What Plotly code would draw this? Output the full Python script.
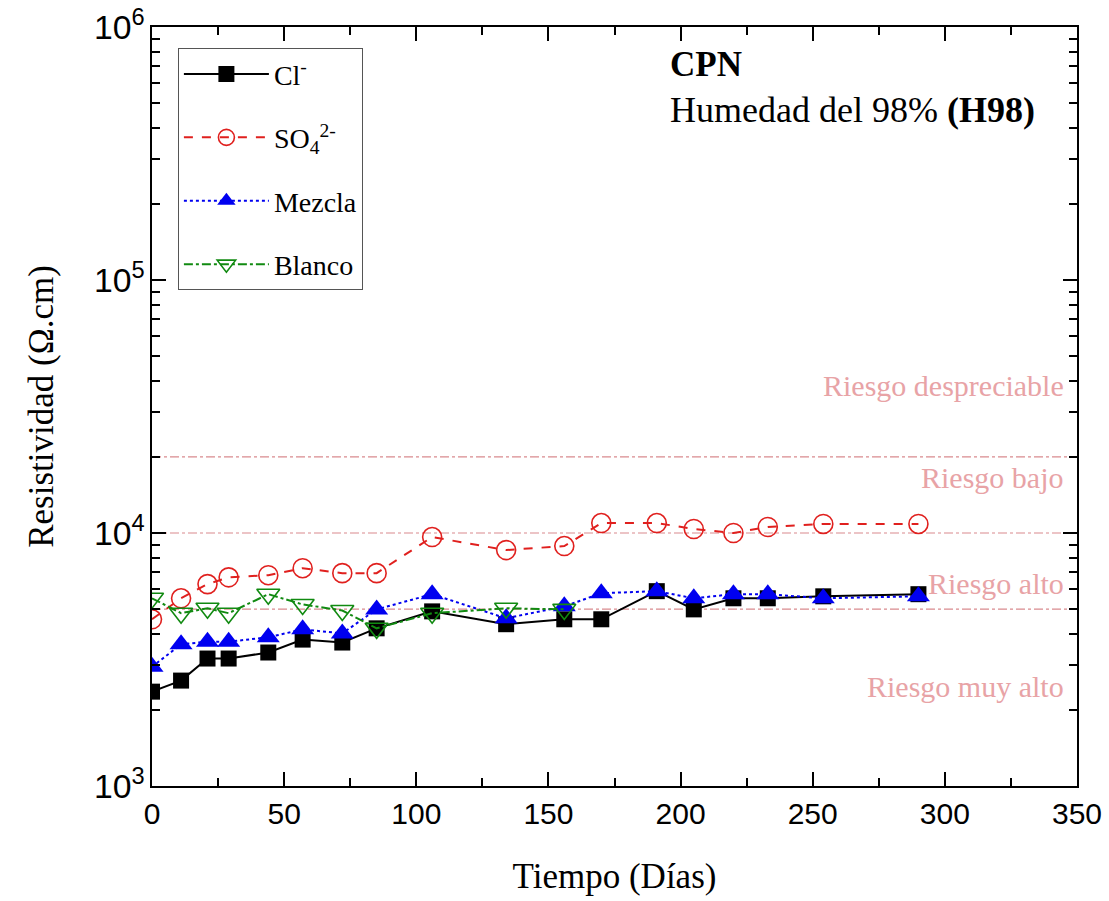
import math
import plotly.graph_objects as go

# Exposure time (days) and resistivity (ohm·cm)
dias = [0, 11, 21, 29, 44, 57, 72, 85, 106, 134, 156, 170, 191, 205, 220, 233, 254, 290]
cloruro = [2360, 2610, 3190, 3190, 3370, 3790, 3690, 4200, 4900, 4360, 4560, 4560,
           5890, 4990, 5520, 5520, 5620, 5730]
sulfato = [4560, 5520, 6280, 6680, 6810, 7260, 6940, 6940, 9640, 8560, 8880, 10950,
           10950, 10370, 10000, 10560, 10860, 10860]
mezcla = [2960, 3630, 3720, 3720, 3870, 4160, 4010, 4990, 5730, 4600, 5130, 5780,
          5890, 5520, 5730, 5730, 5520, 5620]
dias_blanco = [0, 11, 21, 29, 44, 57, 72, 85, 106, 134, 156]
blanco = [5520, 4820, 5040, 4820, 5730, 5220, 4940, 4200, 4820, 5040, 4990]

# Corrosion-risk thresholds and the labels of each band
umbrales = [20000, 10000, 5000]
riesgos = ["Riesgo despreciable", "Riesgo bajo", "Riesgo alto", "Riesgo muy alto"]
riesgos_y = [38300, 16500, 6300, 2470]

SERIF = "Liberation Serif"
SANS = "Liberation Sans"
RISK_COLOR = "#E8A3A6"

fig = go.Figure()

# threshold lines
for u in umbrales:
    fig.add_trace(go.Scatter(
        x=[0, 350], y=[u, u], mode="lines", showlegend=False, hoverinfo="skip",
        line=dict(color="#D98A8E", width=1.2, dash="dashdot")))

series = [
    ("Cl<sup>-</sup>", dias, cloruro, "black", "solid",
     dict(symbol="square", size=16, color="black")),
    ("SO<sub>4</sub><sup>2-</sup>", dias, sulfato, "#E0201E", "dash",
     dict(symbol="circle-open", size=19, color="#E0201E", line=dict(width=1.6, color="#E0201E"))),
    ("Mezcla", dias, mezcla, "#0000F0", "dot",
     dict(symbol="triangle-up", size=20, color="#0000F0")),
    ("Blanco", dias_blanco, blanco, "#118A11", "dashdot",
     dict(symbol="triangle-down-open", size=20, color="#118A11", line=dict(width=1.6, color="#118A11"))),
]
for i, (name, xs, ys, col, dash, mk) in enumerate(series):
    fig.add_trace(go.Scatter(
        x=xs, y=ys, name=name, mode="lines+markers", legendgroup=str(i),
        line=dict(color=col, width=2, dash=dash), marker=mk))

for txt, yv in zip(riesgos, riesgos_y):
    fig.add_annotation(x=346, y=math.log10(yv), xref="x", yref="y", text=txt,
                       showarrow=False, xanchor="right", yanchor="middle",
                       font=dict(family=SERIF, size=30, color=RISK_COLOR))

fig.add_annotation(x=0.558, y=0.951, xref="paper", yref="paper", text="<b>CPN</b>",
                   showarrow=False, xanchor="left", yanchor="middle",
                   font=dict(family=SERIF, size=35, color="black"))
fig.add_annotation(x=0.558, y=0.891, xref="paper", yref="paper",
                   text="Humedad del 98% <b>(H98)</b>",
                   showarrow=False, xanchor="left", yanchor="middle",
                   font=dict(family=SERIF, size=36, color="black"))

fig.update_layout(
    width=1109, height=901,
    margin=dict(l=152, r=32, t=27, b=115),
    paper_bgcolor="white", plot_bgcolor="white",
    showlegend=True,
    legend=dict(x=0.028, y=0.972, xanchor="left", yanchor="top",
                bordercolor="#555555", borderwidth=1, bgcolor="white",
                font=dict(family=SERIF, size=28, color="black"),
                itemwidth=85, tracegroupgap=24, traceorder="grouped"),
    xaxis=dict(range=[0, 350], tickvals=[0, 50, 100, 150, 200, 250, 300, 350],
               automargin=False,
               ticks="inside", ticklen=14, tickwidth=2, tickcolor="black",
               minor=dict(tick0=25, dtick=50, ticks="inside", ticklen=8, tickwidth=2, tickcolor="black"),
               showline=True, linecolor="black", linewidth=2, mirror="ticks",
               showgrid=False, zeroline=False,
               tickfont=dict(family=SANS, size=30, color="black"),
               title=dict(text="Tiempo (Días)", standoff=34,
                          font=dict(family=SERIF, size=35, color="black"))),
    yaxis=dict(type="log", range=[3, 6], dtick=1, exponentformat="power",
               automargin=False,
               ticks="inside", ticklen=14, tickwidth=2, tickcolor="black",
               minor=dict(ticks="inside", ticklen=8, tickwidth=2, tickcolor="black"),
               showline=True, linecolor="black", linewidth=2, mirror="ticks",
               showgrid=False, zeroline=False,
               tickfont=dict(family=SANS, size=27, color="black"),
               title=dict(text="Resistividad (Ω.cm)", standoff=30,
                          font=dict(family=SERIF, size=35, color="black"))),
)

fig.write_html("out.html")
